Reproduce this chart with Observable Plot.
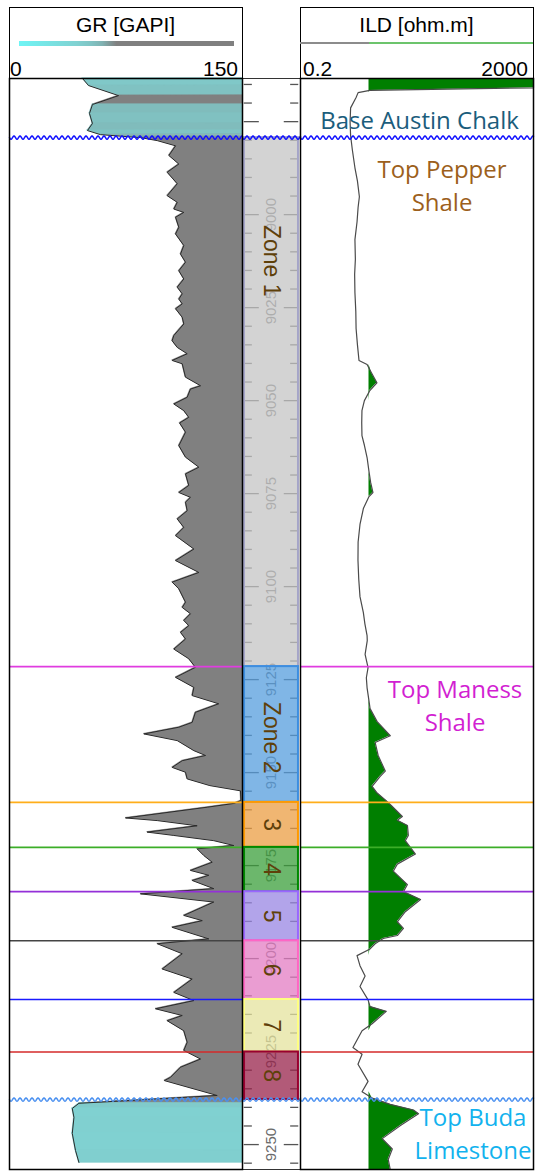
<!DOCTYPE html>
<html><head><meta charset="utf-8">
<script src="https://cdn.jsdelivr.net/npm/d3@7"></script>
<script src="https://cdn.jsdelivr.net/npm/@observablehq/plot@0.6"></script>
<style>
body{margin:0;background:#fff;}
#wrap{position:relative;width:535px;height:1171px;overflow:hidden;background:#fff;font-family:"Liberation Sans",Arial,sans-serif;}
.box{position:absolute;top:7px;height:72px;border:1.5px solid #000;box-sizing:border-box;}
.t{position:absolute;font-size:21px;line-height:24px;white-space:nowrap;color:#000;}
</style></head><body><div id="wrap"></div>
<script>
// ---------- data ----------
const grDepth = [8963.4,8965.3,8968.0,8970.4,8972.8,8975.5,8977.4,8978.5,8979.3,8980.1,8981.5,8984.1,8986.4,8988.6,8991.7,8994.9,8996.7,8998.5,8999.4,9000.7,9003.4,9005.2,9008.3,9010.6,9012.8,9015.1,9017.3,9019.5,9021.3,9022.7,9024.0,9025.3,9027.6,9029.4,9032.5,9033.9,9035.7,9037.4,9039.2,9040.1,9043.7,9046.0,9046.9,9049.1,9050.9,9052.7,9054.5,9056.0,9058.5,9062.1,9065.2,9067.9,9069.7,9072.8,9074.7,9076.0,9077.3,9079.6,9081.8,9084.1,9086.3,9089.9,9093.0,9096.2,9098.8,9100.6,9104.2,9105.6,9107.3,9109.1,9110.5,9112.3,9114.1,9116.8,9119.4,9121.7,9124.4,9127.1,9129.3,9131.5,9133.8,9136.5,9137.8,9139.6,9141.4,9144.1,9145.4,9146.8,9148.6,9149.9,9151.7,9153.5,9154.9,9157.5,9158.3,9159.3,9162.2,9162.9,9164.3,9166.0,9166.9,9168.3,9169.6,9170.5,9172.3,9174.1,9176.3,9177.6,9179.0,9181.2,9182.6,9184.8,9188.4,9189.8,9191.6,9194.7,9196.0,9198.7,9202.8,9205.5,9209.1,9211.3,9213.5,9215.3,9216.7,9219.4,9222.5,9224.7,9227.0,9229.2,9231.9,9232.8,9236.8,9238.4,9238.9,9240.3,9242.7,9247.0,9251.6,9254.8];
const grValue = [47.0,50.9,70.2,53.4,51.5,53.4,50.2,58.6,84.3,95.1,106.9,102.6,109.0,101.5,108.0,101.5,108.0,105.8,112.2,106.9,109.0,106.9,112.2,110.1,113.3,109.0,112.2,108.0,111.2,109.0,111.2,106.9,111.2,112.2,105.8,104.7,108.0,114.4,104.7,111.2,113.3,123.0,116.5,114.4,105.8,112.2,115.4,109.5,113.3,109.0,113.3,121.9,113.3,115.4,109.0,116.5,113.3,114.4,108.0,112.2,106.9,118.7,106.9,121.9,104.7,109.0,113.3,111.2,116.5,112.2,115.4,110.1,113.3,105.8,115.4,119.7,106.9,118.7,117.6,134.7,119.7,117.6,109.0,86.5,108.0,118.7,126.2,111.2,104.7,113.3,114.4,129.0,148.7,149.0,144.4,127.3,74.7,95.1,120.8,88.6,105.8,131.5,144.4,120.8,125.1,130.5,116.5,128.3,117.6,131.5,84.3,131.5,112.2,124.1,104.7,128.3,95.1,111.2,98.3,117.6,105.8,118.7,94.0,111.2,101.5,112.2,114.4,112.2,123.0,110.1,103.7,99.7,133.7,66.7,44.7,40.4,41.5,40.4,42.5,44.7];

const ildDepth = [8963.4,8965.9,8966.6,8967.2,8968.5,8971.3,8975.0,8978.8,8982.5,8987.4,8991.0,8995.2,8998.0,9001.9,9006.7,9012.0,9016.0,9021.0,9026.0,9030.6,9035.0,9039.2,9040.3,9042.5,9045.2,9047.3,9050.0,9052.7,9056.0,9059.4,9062.0,9065.3,9069.1,9072.0,9074.7,9075.8,9079.0,9083.3,9088.0,9093.0,9098.0,9102.7,9107.0,9110.0,9113.2,9114.5,9118.2,9121.8,9124.5,9127.2,9130.0,9132.8,9136.3,9140.1,9141.9,9145.4,9149.6,9151.0,9153.7,9155.5,9157.8,9159.1,9161.8,9162.8,9164.2,9166.9,9168.3,9171.9,9174.6,9176.5,9180.1,9182.0,9184.1,9187.4,9190.1,9191.9,9193.8,9194.6,9196.0,9197.4,9199.2,9201.9,9204.7,9207.5,9211.1,9212.9,9214.2,9217.5,9219.4,9223.9,9225.7,9228.4,9233.0,9235.8,9237.5,9239.2,9240.7,9241.7,9244.9,9248.4,9251.2,9254.0,9256.7];
const ildValue = [2000,2000,3.1,1.95,1.8,1.45,1.42,1.45,1.55,1.72,1.9,2.05,1.95,1.87,1.72,1.75,1.70,1.72,1.78,1.8,1.9,2.02,2.78,3.3,4.1,3.1,2.5,2.27,2.25,2.27,2.5,2.78,3.0,3.2,3.5,3.0,2.4,2.1,1.95,1.94,2.0,2.1,2.4,2.55,2.78,2.8,2.57,2.89,2.7,2.78,2.95,3.13,4.14,6.95,3.82,4.31,5.70,4.67,3.39,4.14,6.17,7.53,11.2,9.18,13.7,14.2,12.6,18.8,9.18,7.83,13.7,11.7,23.0,12.6,9.18,11.7,9.18,5.26,3.82,3.13,1.87,2.10,2.57,2.10,2.89,3.13,5.93,3.39,2.28,1.59,2.28,1.94,2.89,2.28,3.39,6.95,17.4,21.2,10.4,5.06,7.53,6.41,6.95];
const ildCutoff = 3;

const topNames  = ["Base Austin Chalk","Top Maness Shale","Top 3","Top 4","Top 5","Top 6","Top 7","Top 8","Top Buda Limestone"];
const topDepths = [8979.3, 9121.5, 9158.0, 9170.1, 9182.0, 9195.2, 9211.0, 9225.1, 9237.9];

const zoneNames = ["Zone 1","Zone 2","3","4","5","6","7","8"];
const zoneTop   = [8979.3, 9121.5, 9158.0, 9170.1, 9182.0, 9195.2, 9211.0, 9225.1];
const zoneBase  = [9121.5, 9158.0, 9170.1, 9182.0, 9195.2, 9211.0, 9225.1, 9237.9];
const zoneLabelDepth = [9012.4, 9140.6, 9164.0, 9176.0, 9188.6, 9203.1, 9218.0, 9231.5];

const annText  = ["Base Austin Chalk","Top Pepper\nShale","Top Maness\nShale","Top Buda\nLimestone"];
const annDepth = [8974.0, 8991.7, 9131.6, 9246.5];

const depthLabels = [9000, 9025, 9050, 9075, 9100, 9125, 9150, 9175, 9200, 9225, 9250];
const depthMajor  = [8975, 9000, 9025, 9050, 9075, 9100, 9125, 9150, 9175, 9200, 9225, 9250];
const grDomain  = [0, 150];
const ildDomain = [0.2, 2000];
const grTickLabels  = ["0", "150"];
const ildTickLabels = ["0.2", "2000"];
const yTop = 8963.4, yBottom = 9256.7;

// ---------- styles ----------
const grColorDomain = [0, 40, 50, 58, 68, 150];
const grColorRange  = ["#6ef5f5","#80d2d2","#80c4c4","#80b2b2","#808080","#808080"];
const topStyle = {
  "Base Austin Chalk": {color:"#1010ff", wave:true},
  "Top Maness Shale":  {color:"#e03ce0"},
  "Top 3": {color:"#ffae1a"},
  "Top 4": {color:"#3cae28"},
  "Top 5": {color:"#9430d8"},
  "Top 6": {color:"#444444"},
  "Top 7": {color:"#1a1aff"},
  "Top 8": {color:"#d42a2a"},
  "Top Buda Limestone": {color:"#4a90f0", wave:true}
};
const zoneStyle = {
  "Zone 1": {fill:"#c4c4c4", stroke:"#a5a5c8"},
  "Zone 2": {fill:"#559ede", stroke:"#3d8ee0"},
  "3": {fill:"#eb9e43", stroke:"#ff9a00"},
  "4": {fill:"#3b9f3b", stroke:"#008a00"},
  "5": {fill:"#9886e3", stroke:"#9a66ff"},
  "6": {fill:"#e37cc3", stroke:"#ff66c4"},
  "7": {fill:"#e4e39e", stroke:"#ffff80"},
  "8": {fill:"#98234b", stroke:"#990030"}
};
const annStyle = {
  "Base Austin Chalk": {fill:"#1b5d7c", dx:2.5},
  "Top Pepper\nShale": {fill:"#9c5f1c", dx:25},
  "Top Maness\nShale": {fill:"#d21fd2", dx:38},
  "Top Buda\nLimestone": {fill:"#12b2ee", dx:56}
};

// ---------- helpers ----------
function waveCurve(context) {
  let pts = [];
  return {
    areaStart(){}, areaEnd(){},
    lineStart(){ pts = []; },
    point(x, y){ pts.push([+x, +y]); },
    lineEnd(){
      if (pts.length < 2) return;
      const [x0, y0] = pts[0], [x1] = pts[pts.length - 1];
      const wl = 6, amp = 1.6;
      context.moveTo(x0, y0);
      for (let t = 0.5; t <= x1 - x0; t += 0.5) context.lineTo(x0 + t, y0 + amp * Math.sin(2 * Math.PI * t / wl));
    }
  };
}
function topMarks(xDomain) {
  return topNames.map((name, i) => {
    const st = topStyle[name];
    if (st.wave) {
      return Plot.line([{x: xDomain[0], y: topDepths[i]}, {x: xDomain[1], y: topDepths[i]}],
        {x: "x", y: "y", stroke: st.color, strokeWidth: 1.5, curve: waveCurve});
    }
    return Plot.ruleY([topDepths[i]], {stroke: st.color, strokeWidth: 1.6});
  });
}
const yScale = {domain: [yTop, yBottom], reverse: true, axis: null};
const common = {height: 1171, marginTop: 78, marginBottom: 2};

const grData  = grDepth.map((d, i) => ({depth: d, gr: grValue[i]}));
const ildData = ildDepth.map((d, i) => ({depth: d, ild: ildValue[i]}));
const zones = zoneNames.map((z, i) => ({name: z, top: zoneTop[i], base: zoneBase[i], mid: zoneLabelDepth[i]}));
const minorTicks = d3.range(8965, 9260, 5).filter(d => d % 25 !== 0);

const wrap = document.getElementById("wrap");

// ---------- depth track ----------
const depthPlot = Plot.plot({
  ...common, width: 58, marginLeft: 0, marginRight: 0,
  style: {position: "absolute", left: "242px", top: "0px", background: "transparent", overflow: "visible"},
  x: {domain: [0, 1], axis: null},
  y: yScale,
  marks: [
    Plot.frame({fill: "#fff", stroke: "#333", strokeWidth: 1}),
    Plot.ruleY(minorTicks, {x1: 0.03, x2: 0.17, stroke: "#555", strokeWidth: 1.3}),
    Plot.ruleY(minorTicks, {x1: 0.83, x2: 0.97, stroke: "#555", strokeWidth: 1.3}),
    Plot.ruleY(depthMajor, {x1: 0.03, x2: 0.29, stroke: "#555", strokeWidth: 1.3}),
    Plot.ruleY(depthMajor, {x1: 0.72, x2: 0.97, stroke: "#555", strokeWidth: 1.3}),
    Plot.text(depthLabels, {y: d => d, x: 0.5, text: d => String(d), rotate: -90, fontSize: 15, fill: "#6a6a6a", fontFamily: "Liberation Sans"}),
    ...zones.map(z => Plot.rect([z], {y1: "top", y2: "base", x1: 0.035, x2: 0.965,
        fill: zoneStyle[z.name].fill, fillOpacity: 0.75, stroke: zoneStyle[z.name].stroke, strokeWidth: 2})),
    Plot.text(zones, {y: "mid", x: 0.5, text: "name", rotate: 90, fontSize: 23, fill: "#5e400a", fontFamily: "Liberation Sans"}),
    ...topNames.map((name, i) => topStyle[name].wave ?
      Plot.line([{x: 0, y: topDepths[i]}, {x: 1, y: topDepths[i]}], {x: "x", y: "y", stroke: topStyle[name].color, strokeWidth: 1.5, curve: waveCurve}) : null).filter(Boolean),
    Plot.frame({stroke: "#333", strokeWidth: 1})
  ]
});
wrap.appendChild(depthPlot);

// ---------- GR track ----------
const grPlot = Plot.plot({
  ...common, width: 250, marginLeft: 9, marginRight: 8,
  style: {position: "absolute", left: "0px", top: "0px", background: "transparent", overflow: "visible"},
  x: {domain: grDomain, axis: null},
  y: yScale,
  color: {type: "linear", domain: grColorDomain, range: grColorRange, interpolate: "rgb"},
  marks: [
    Plot.areaX(grData, {y: "depth", x1: "gr", x2: grDomain[1], fill: "gr", stroke: "gr", strokeWidth: 0.7, z: null}),
    Plot.lineX(grData, {x: "gr", y: "depth", stroke: "#2a2a2a", strokeWidth: 1}),
    ...topMarks(grDomain),
    Plot.frame({stroke: "#000", strokeWidth: 1.5})
  ]
});
wrap.appendChild(grPlot);

// ---------- ILD track ----------
const ildPlot = Plot.plot({
  ...common, width: 243, marginLeft: 8, marginRight: 2,
  style: {position: "absolute", left: "292px", top: "0px", background: "transparent", overflow: "visible"},
  x: {type: "log", domain: ildDomain, axis: null},
  y: yScale,
  marks: [
    Plot.areaX(ildData, {y: "depth", x1: ildCutoff, x2: d => Math.max(d.ild, ildCutoff), fill: "#007f00"}),
    Plot.lineX(ildData, {x: "ild", y: "depth", stroke: "#4a4a4a", strokeWidth: 1.2}),
    ...topMarks(ildDomain),
    ...annText.map((t, i) => Plot.text([t], {y: () => annDepth[i], text: d => d, dx: annStyle[t].dx,
        fill: annStyle[t].fill, fontSize: 24, lineHeight: 1.38, fontFamily: "Open Sans"})),
    Plot.frame({stroke: "#000", strokeWidth: 1.5})
  ]
});
wrap.appendChild(ildPlot);

// ---------- headers ----------
function el(tag, cls, css, text) {
  const e = document.createElement(tag);
  if (cls) e.className = cls;
  Object.assign(e.style, css);
  if (text != null) e.textContent = text;
  wrap.appendChild(e);
  return e;
}
el("div", "box", {left: "9px", width: "234px"});
el("div", "box", {left: "300px", width: "234px"});
el("div", "t", {left: "9px", width: "233px", top: "13px", textAlign: "center"}, "GR [GAPI]");
el("div", "t", {left: "300px", width: "233px", top: "13px", textAlign: "center"}, "ILD [ohm.m]");
const stops = grColorDomain.map((d, i) => `${grColorRange[i]} ${(d - grDomain[0]) / (grDomain[1] - grDomain[0]) * 100}%`).join(",");
el("div", null, {position: "absolute", left: "19px", top: "41px", width: "215px", height: "5px", background: `linear-gradient(to right, ${stops})`});
el("div", "t", {left: "10px", top: "57px"}, grTickLabels[0]);
el("div", "t", {right: `${535 - 238}px`, top: "57px", textAlign: "right"}, grTickLabels[1]);
el("div", null, {position: "absolute", left: "300px", top: "42px", width: "69px", height: "2px", background: "#8c8c8c"});
el("div", null, {position: "absolute", left: "369px", top: "42px", width: "164px", height: "2px", background: "#6cc46c"});
el("div", "t", {left: "303px", top: "57px"}, ildTickLabels[0]);
el("div", "t", {right: `${535 - 528}px`, top: "57px", textAlign: "right"}, ildTickLabels[1]);
</script>
</body></html>
